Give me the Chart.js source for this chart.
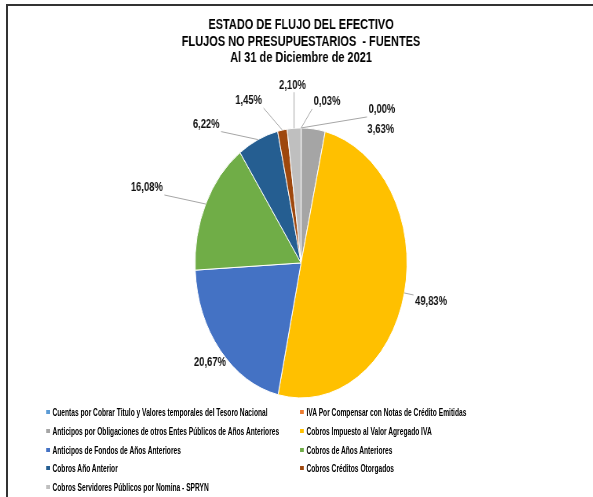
<!DOCTYPE html>
<html>
<head>
<meta charset="utf-8">
<script src="https://cdn.jsdelivr.net/npm/chart.js@4/dist/chart.umd.min.js"></script>
<style>
  html, body { margin: 0; padding: 0; background: #fff; }
  #page { position: relative; width: 593px; height: 497px; overflow: hidden; background: #fff; }
  #frame { position: absolute; left: 6px; top: 4px; right: -4px; bottom: -4px; border-top: 2px solid #333; border-left: 2px solid #333; }
  #stretch { position: absolute; left: 0; top: 0; width: 755px; height: 497px; transform: scaleX(0.785); transform-origin: 0 0; }
  #legend { position: absolute; left: 0; top: 0; width: 940px; height: 497px; transform: scaleX(0.633); transform-origin: 0 0; font: bold 10.5px "Liberation Sans", Arial, sans-serif; color: #000; }
  .item { position: absolute; white-space: nowrap; line-height: 12px; height: 12px; }
  .box { position: absolute; left: 0; top: 4px; width: 6px; height: 4px; }
</style>
</head>
<body>
<div id="page">
  <div id="frame"></div>
  <div id="stretch"><canvas id="pieChart" width="755" height="497"></canvas></div>
  <div id="legend"></div>
</div>
<script>
const titleLines = ["ESTADO DE FLUJO DEL EFECTIVO", "FLUJOS NO PRESUPUESTARIOS  - FUENTES", "Al 31 de Diciembre de 2021"];

const labels = [
  "Cuentas por Cobrar Titulo y Valores temporales del Tesoro Nacional",
  "IVA Por Compensar con Notas de Crédito Emitidas",
  "Anticipos por Obligaciones de otros Entes Públicos de Años Anteriores",
  "Cobros Impuesto al Valor Agregado IVA",
  "Anticipos de Fondos de Años Anteriores",
  "Cobros de Años Anteriores",
  "Cobros Año Anterior",
  "Cobros Créditos Otorgados",
  "Cobros Servidores Públicos por Nomina - SPRYN"
];
const values = [0.00, 0.03, 3.63, 49.83, 20.67, 16.08, 6.22, 1.45, 2.10];

const colors = ["#5B9BD5", "#ED7D31", "#A5A5A5", "#FFC000", "#4472C4", "#70AD47", "#255E91", "#9E480E", "#BFBFBF"];

// where each % label sits relative to its slice edge, and whether it gets a leader line
const labelNudge = [[103, -18], [33, -26], [86, 1], [34, 9], [-13, 13], [-75, -16], [-66, -15], [-43, -29], [-2, -43]];
const leader = [true, true, false, true, false, true, true, true, true];

const pieLabels = {
  id: 'pieLabels',
  afterDatasetsDraw(chart) {
    const ctx = chart.ctx;
    const meta = chart.getDatasetMeta(0);
    ctx.save();
    ctx.font = 'bold 12px "Liberation Sans", Arial, sans-serif';
    ctx.textAlign = 'center';
    ctx.textBaseline = 'middle';
    meta.data.forEach((arc, i) => {
      const p = arc.getProps(['x', 'y', 'startAngle', 'endAngle', 'outerRadius'], true);
      const mid = (p.startAngle + p.endAngle) / 2;
      const ex = p.x + Math.cos(mid) * p.outerRadius;
      const ey = p.y + Math.sin(mid) * p.outerRadius;
      const lx = ex + labelNudge[i][0];
      const ly = ey + labelNudge[i][1];
      const text = values[i].toFixed(2).replace('.', ',') + '%';
      const w = ctx.measureText(text).width;
      if (leader[i]) {
        const bx = Math.min(Math.max(ex, lx - w / 2 - 2), lx + w / 2 + 2);
        const by = Math.min(Math.max(ey, ly - 7), ly + 7);
        ctx.strokeStyle = '#A6A6A6';
        ctx.lineWidth = 1;
        ctx.beginPath();
        ctx.moveTo(ex, ey);
        ctx.lineTo(bx, by);
        ctx.stroke();
      }
      ctx.fillStyle = '#111';
      ctx.fillText(text, lx, ly);
    });
    ctx.restore();
  }
};

const CHART = document.getElementById("pieChart");

let pieChart = new Chart(CHART, {
  type: 'pie',
  data: {
    labels: labels,
    datasets: [{
      data: values,
      backgroundColor: colors,
      borderColor: '#ffffff',
      borderWidth: 1,
      radius: 135
    }]
  },
  options: {
    responsive: false,
    animation: false,
    devicePixelRatio: 1,
    layout: { padding: { left: 12, right: 0, top: 0, bottom: 99 } },
    plugins: {
      legend: { display: false },
      tooltip: { enabled: false },
      title: {
        display: true,
        text: titleLines,
        color: '#000',
        font: { family: '"Liberation Sans", Arial, sans-serif', size: 14, weight: 'bold', lineHeight: 1.2 },
        padding: { top: 16.5, bottom: 61 }
      }
    }
  },
  plugins: [pieLabels]
});

// two-column legend like the original
const LEGEND = document.getElementById("legend");
const colX = [46, 300];
const textGap = 6.5;
const rowY = [411.7, 430.7, 449.5, 468.3, 487];
const sx = 0.633;
labels.forEach((name, i) => {
  const item = document.createElement('div');
  item.className = 'item';
  item.style.left = (colX[i % 2] / sx) + 'px';
  item.style.top = (rowY[Math.floor(i / 2)] - 6) + 'px';
  const box = document.createElement('span');
  box.className = 'box';
  box.style.background = colors[i];
  const txt = document.createElement('span');
  txt.style.marginLeft = (textGap / sx) + 'px';
  txt.textContent = name;
  item.appendChild(box);
  item.appendChild(txt);
  LEGEND.appendChild(item);
});
</script>
</body>
</html>
